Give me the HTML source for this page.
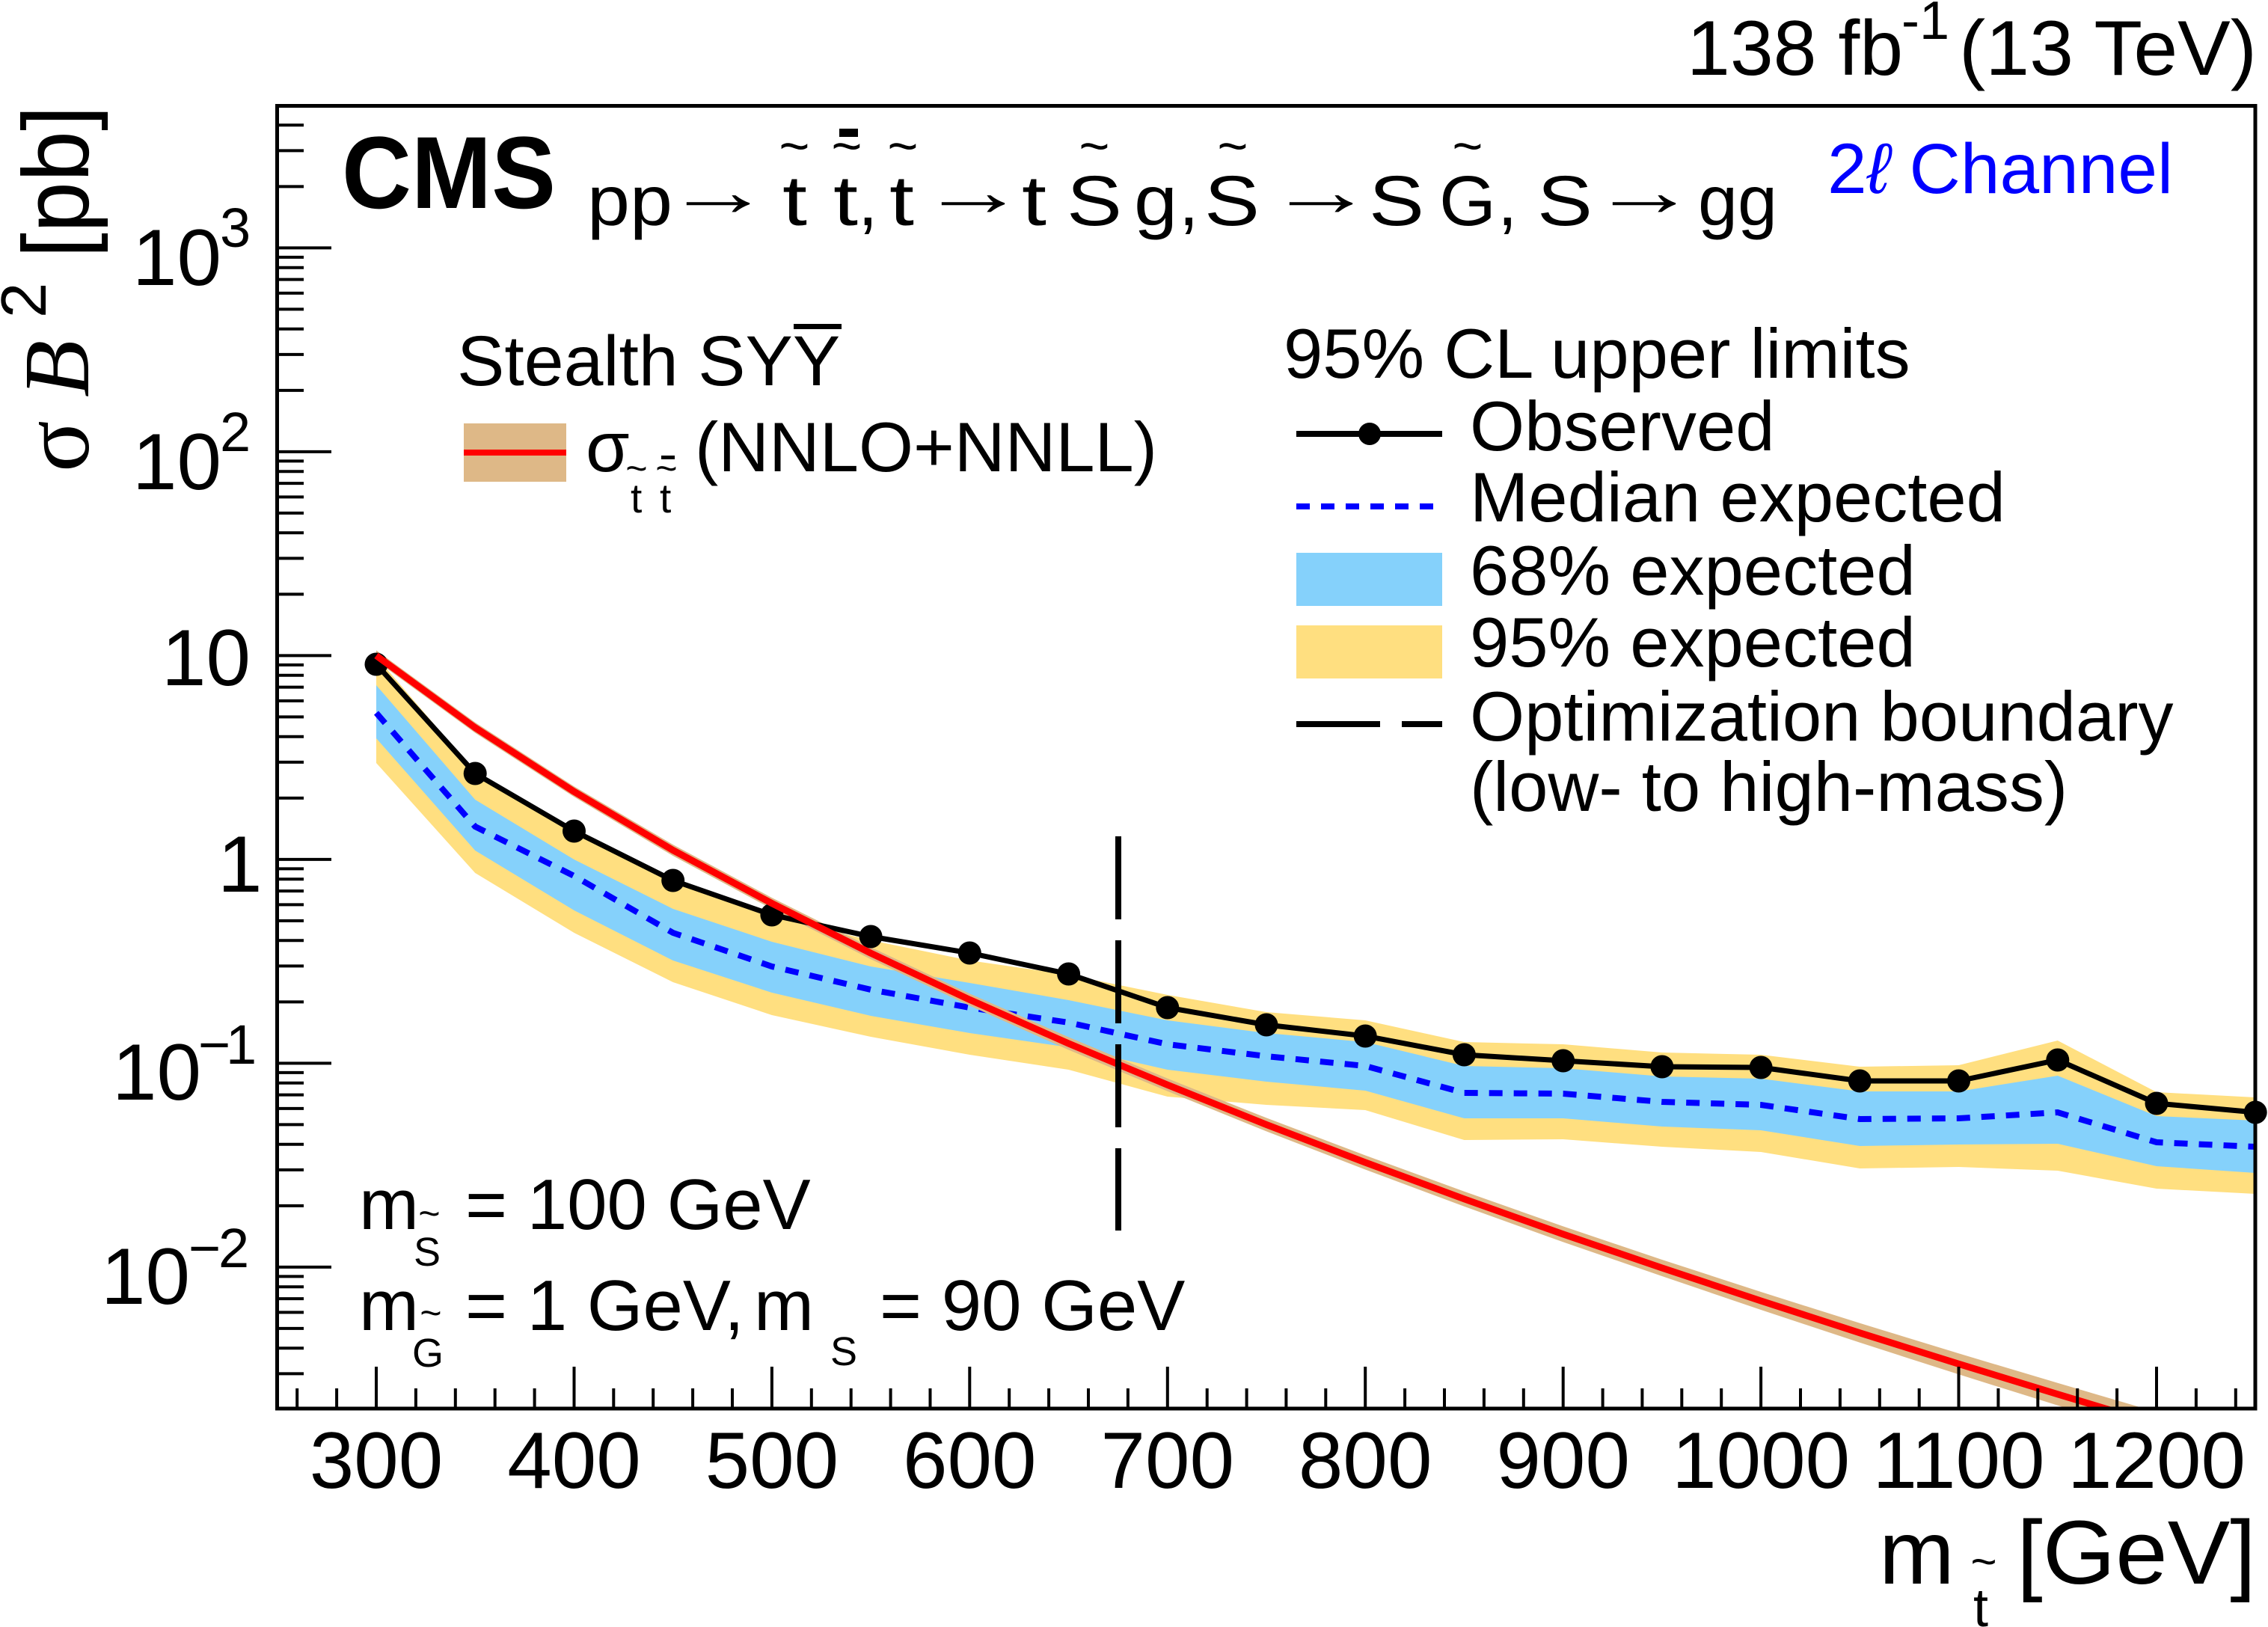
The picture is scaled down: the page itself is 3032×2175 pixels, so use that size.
<!DOCTYPE html>
<html><head><meta charset="utf-8"><style>
html,body{margin:0;padding:0;background:#fff;}
svg{display:block;}
text{font-family:"Liberation Sans",Arial,sans-serif;fill:#000;}
</style></head><body>
<svg width="3032" height="2175" viewBox="0 0 3032 2175" xmlns="http://www.w3.org/2000/svg">
<defs><clipPath id="fr"><rect x="370.5" y="141.5" width="2644.5" height="1741.5"/></clipPath></defs>
<rect width="3032" height="2175" fill="#fff"/>

<!-- 95% band -->
<polygon fill="#FFDF80" points="503,878 635.2,1032 767.5,1110 899.7,1178 1031.9,1225 1164.1,1257 1296.3,1284 1428.6,1303 1560.8,1330 1693,1353 1825.2,1364 1957.4,1393 2089.7,1396 2221.9,1407 2354.1,1410 2486.3,1426 2618.5,1424 2750.8,1391 2883,1460 3015.2,1467 3015.2,1596 2883,1589 2750.8,1565 2618.5,1560 2486.3,1562 2354.1,1540 2221.9,1533 2089.7,1523 1957.4,1524 1825.2,1484 1693,1477 1560.8,1466 1428.6,1430 1296.3,1410 1164.1,1386 1031.9,1357 899.7,1313 767.5,1247 635.2,1167 503,1020"/>
<!-- 68% band -->
<polygon fill="#85D1FB" points="503,916 635.2,1069 767.5,1149 899.7,1215 1031.9,1259 1164.1,1292 1296.3,1314 1428.6,1337 1560.8,1364 1693,1381 1825.2,1393 1957.4,1425 2089.7,1428 2221.9,1439 2354.1,1442 2486.3,1459 2618.5,1459 2750.8,1438 2883,1492 3015.2,1498 3015.2,1568 2883,1559 2750.8,1529 2618.5,1530 2486.3,1532 2354.1,1511 2221.9,1506 2089.7,1495 1957.4,1495 1825.2,1458 1693,1446 1560.8,1430 1428.6,1400 1296.3,1381 1164.1,1358 1031.9,1327 899.7,1284 767.5,1217 635.2,1137 503,987"/>
<!-- median expected -->
<polyline fill="none" stroke="#0000FF" stroke-width="8" stroke-dasharray="18 15" points="503,953 635.2,1105 767.5,1171 899.7,1247 1031.9,1292 1164.1,1323 1296.3,1347 1428.6,1367 1560.8,1396 1693,1412 1825.2,1425 1957.4,1461 2089.7,1462 2221.9,1473 2354.1,1477 2486.3,1496 2618.5,1495 2750.8,1487 2883,1527 3015.2,1533"/>

<g clip-path="url(#fr)">
<polygon fill="#DEB887" points="503,869.4 635.2,965.8 767.5,1051.3 899.7,1129.1 1031.9,1200.1 1164.1,1266.2 1296.3,1328.4 1428.6,1386.5 1560.8,1441.8 1693,1494.4 1825.2,1544.5 1957.4,1592.8 2089.7,1639.4 2221.9,1684 2354.1,1727 2486.3,1768.8 2618.5,1809.3 2750.8,1848.8 2883,1887.6 2883,1919.6 2750.8,1878.8 2618.5,1837.3 2486.3,1794.8 2354.1,1751 2221.9,1706 2089.7,1660.4 1957.4,1612.8 1825.2,1563.5 1693,1512.4 1560.8,1458.8 1428.6,1403.5 1296.3,1344.4 1164.1,1282.2 1031.9,1215.1 899.7,1144.1 767.5,1065.3 635.2,979.8 503,883.4"/>
</g>

<!-- observed -->
<polyline fill="none" stroke="#000" stroke-width="7" stroke-linejoin="round" points="503,888 635.2,1034 767.5,1111 899.7,1177 1031.9,1223 1164.1,1252 1296.3,1274 1428.6,1302 1560.8,1347 1693,1370 1825.2,1385 1957.4,1410 2089.7,1418 2221.9,1426 2354.1,1427 2486.3,1445 2618.5,1445 2750.8,1417 2883,1475 3015.2,1487"/>
<g fill="#000">
<circle cx="503" cy="888" r="15.5"/><circle cx="635.2" cy="1034" r="15.5"/><circle cx="767.5" cy="1111" r="15.5"/><circle cx="899.7" cy="1177" r="15.5"/><circle cx="1031.9" cy="1223" r="15.5"/><circle cx="1164.1" cy="1252" r="15.5"/><circle cx="1296.3" cy="1274" r="15.5"/><circle cx="1428.6" cy="1302" r="15.5"/><circle cx="1560.8" cy="1347" r="15.5"/><circle cx="1693" cy="1370" r="15.5"/><circle cx="1825.2" cy="1385" r="15.5"/><circle cx="1957.4" cy="1410" r="15.5"/><circle cx="2089.7" cy="1418" r="15.5"/><circle cx="2221.9" cy="1426" r="15.5"/><circle cx="2354.1" cy="1427" r="15.5"/><circle cx="2486.3" cy="1445" r="15.5"/><circle cx="2618.5" cy="1445" r="15.5"/><circle cx="2750.8" cy="1417" r="15.5"/><circle cx="2883" cy="1475" r="15.5"/><circle cx="3015.2" cy="1487" r="15.5"/>
</g>

<!-- theory line -->
<g clip-path="url(#fr)">
<polyline fill="none" stroke="#FF0000" stroke-width="9" stroke-linejoin="round" points="503,876.4 635.2,972.8 767.5,1058.3 899.7,1136.6 1031.9,1207.6 1164.1,1274.2 1296.3,1336.4 1428.6,1395 1560.8,1450.3 1693,1503.4 1825.2,1554 1957.4,1602.8 2089.7,1649.9 2221.9,1695 2354.1,1739 2486.3,1781.8 2618.5,1823.3 2750.8,1863.8 2883,1903.6"/>
</g>

<!-- optimization boundary -->
<line x1="1495" y1="1118" x2="1495" y2="1645" stroke="#000" stroke-width="8" stroke-dasharray="111 28"/>

<!-- frame -->
<rect x="370.5" y="141.5" width="2644.5" height="1741.5" fill="none" stroke="#000" stroke-width="5"/>

<!-- y ticks -->
<path stroke="#000" stroke-width="4" fill="none" d="
M370 331.4H443 M370 603.9H443 M370 876.4H443 M370 1148.9H443 M370 1421.4H443 M370 1693.9H443
M370 1836.4H406 M370 1802.3H406 M370 1775.9H406 M370 1754.4H406 M370 1736.1H406 M370 1720.3H406 M370 1706.4H406
M370 1611.9H406 M370 1563.9H406 M370 1529.8H406 M370 1503.4H406 M370 1481.9H406 M370 1463.6H406 M370 1447.8H406 M370 1433.9H406
M370 1339.4H406 M370 1291.4H406 M370 1257.3H406 M370 1230.9H406 M370 1209.4H406 M370 1191.1H406 M370 1175.3H406 M370 1161.4H406
M370 1066.9H406 M370 1018.9H406 M370 984.8H406 M370 958.4H406 M370 936.9H406 M370 918.6H406 M370 902.8H406 M370 888.9H406
M370 794.4H406 M370 746.4H406 M370 712.3H406 M370 685.9H406 M370 664.4H406 M370 646.1H406 M370 630.3H406 M370 616.4H406
M370 521.9H406 M370 473.9H406 M370 439.8H406 M370 413.4H406 M370 391.9H406 M370 373.6H406 M370 357.8H406 M370 343.9H406
M370 249.4H406 M370 201.4H406 M370 167.3H406"/>
<!-- x ticks -->
<path stroke="#000" stroke-width="4" fill="none" d="
M503 1883V1827 M767.5 1883V1827 M1031.9 1883V1827 M1296.3 1883V1827 M1560.8 1883V1827 M1825.2 1883V1827 M2089.7 1883V1827 M2354.1 1883V1827 M2618.5 1883V1827 M2883 1883V1827
M397.2 1883V1856 M450.1 1883V1856 M555.9 1883V1856 M608.8 1883V1856 M661.7 1883V1856 M714.6 1883V1856
M820.3 1883V1856 M873.2 1883V1856 M926.1 1883V1856 M979 1883V1856
M1084.8 1883V1856 M1137.7 1883V1856 M1190.6 1883V1856 M1243.5 1883V1856
M1349.2 1883V1856 M1402.1 1883V1856 M1455 1883V1856 M1507.9 1883V1856
M1613.7 1883V1856 M1666.6 1883V1856 M1719.4 1883V1856 M1772.3 1883V1856
M1878.1 1883V1856 M1931 1883V1856 M1983.9 1883V1856 M2036.8 1883V1856
M2142.6 1883V1856 M2195.4 1883V1856 M2248.3 1883V1856 M2301.2 1883V1856
M2407 1883V1856 M2459.9 1883V1856 M2512.8 1883V1856 M2565.7 1883V1856
M2671.4 1883V1856 M2724.3 1883V1856 M2777.2 1883V1856 M2830.1 1883V1856
M2935.9 1883V1856 M2988.8 1883V1856"/>

<!-- x tick labels -->
<g font-size="107" text-anchor="middle">
<text x="503" y="1989">300</text><text x="767.5" y="1989">400</text><text x="1031.9" y="1989">500</text><text x="1296.3" y="1989">600</text><text x="1560.8" y="1989">700</text><text x="1825.2" y="1989">800</text><text x="2089.7" y="1989">900</text><text x="2354.1" y="1989">1000</text><text x="2618.5" y="1989">1100</text><text x="2883" y="1989">1200</text>
</g>

<!-- y tick labels -->
<text x="177" y="381" font-size="107">10</text><text x="294" y="330" font-size="74">3</text>
<text x="177" y="654" font-size="107">10</text><text x="294" y="603" font-size="74">2</text>
<text x="216" y="916" font-size="107">10</text>
<text x="291" y="1192" font-size="107">1</text>
<text x="150" y="1470" font-size="107">10</text><text y="1422" font-size="74"><tspan x="265">−</tspan><tspan x="302">1</tspan></text>
<text x="135" y="1743" font-size="107">10</text><text y="1694" font-size="74"><tspan x="252">−</tspan><tspan x="292">2</tspan></text>

<!-- y axis title -->
<g transform="translate(118,629) rotate(-90)">
<text x="-2" y="0" font-size="128" style="font-family:'Liberation Serif',serif">σ</text>
<text x="98" y="0" font-size="125" font-style="italic" style="font-family:'Liberation Serif',serif">B</text>
<text x="204" y="-57" font-size="85">2</text>
<text x="284" y="0" font-size="125" textLength="204" lengthAdjust="spacingAndGlyphs">[pb]</text>
</g>

<!-- x axis title -->
<text x="2512" y="2117" font-size="121">m</text>
<text x="2638" y="2174" font-size="72">t</text>
<text x="2652" y="2108" font-size="60" text-anchor="middle">~</text>
<text x="2696" y="2117" font-size="121" textLength="320" lengthAdjust="spacingAndGlyphs">[GeV]</text>

<!-- top right lumi -->
<text x="2255" y="100" font-size="104">138 fb</text>
<text x="2542" y="52" font-size="72">-1</text>
<text x="2619" y="100" font-size="104" textLength="398" lengthAdjust="spacingAndGlyphs">(13 TeV)</text>

<!-- CMS -->
<text x="457" y="278" font-size="137" font-weight="bold" textLength="286" lengthAdjust="spacingAndGlyphs">CMS</text>

<!-- process string -->
<g font-size="95">
<text x="785" y="301" textLength="114" lengthAdjust="spacingAndGlyphs">pp</text>
<text x="1046" y="301" textLength="33" lengthAdjust="spacingAndGlyphs">t</text>
<text x="1114" y="301" textLength="33" lengthAdjust="spacingAndGlyphs">t</text>
<text x="1147" y="301">,</text>
<text x="1189" y="301" textLength="33" lengthAdjust="spacingAndGlyphs">t</text>
<text x="1366" y="301" textLength="33" lengthAdjust="spacingAndGlyphs">t</text>
<text x="1426" y="301" textLength="74" lengthAdjust="spacingAndGlyphs">S</text>
<text x="1516" y="301" textLength="58" lengthAdjust="spacingAndGlyphs">g</text>
<text x="1576" y="301">,</text>
<text x="1610" y="301" textLength="74" lengthAdjust="spacingAndGlyphs">S</text>
<text x="1830" y="301" textLength="74" lengthAdjust="spacingAndGlyphs">S</text>
<text x="1924" y="301" textLength="76" lengthAdjust="spacingAndGlyphs">G</text>
<text x="2002" y="301">,</text>
<text x="2055" y="301" textLength="74" lengthAdjust="spacingAndGlyphs">S</text>
<text x="2270" y="301" textLength="106" lengthAdjust="spacingAndGlyphs">gg</text>
</g>
<g font-size="95" text-anchor="middle">
<text transform="translate(960,288) scale(1.5,1)" x="0" y="0">→</text>
<text transform="translate(1301,288) scale(1.5,1)" x="0" y="0">→</text>
<text transform="translate(1766,288) scale(1.5,1)" x="0" y="0">→</text>
<text transform="translate(2198,288) scale(1.5,1)" x="0" y="0">→</text>
</g>
<g font-size="70" text-anchor="middle">
<text x="1062" y="219">~</text><text x="1132" y="219">~</text><text x="1207" y="219">~</text><text x="1463" y="219">~</text><text x="1648" y="219">~</text><text x="1962" y="219">~</text>
</g>
<rect x="1122" y="172" width="25" height="11" fill="#000"/>

<!-- 2l channel -->
<text x="2443" y="258" font-size="95" style="fill:#0000FF" textLength="462" lengthAdjust="spacingAndGlyphs">2<tspan font-style="italic" style="fill:#0000FF">ℓ</tspan> Channel</text>

<!-- left legend -->
<text x="611" y="515" font-size="95">Stealth SYY</text>
<rect x="1061" y="433" width="64" height="7" fill="#000"/>
<rect x="620" y="566" width="137" height="78" fill="#DEB887"/>
<rect x="620" y="601" width="137" height="8" fill="#FF0000"/>
<text x="783" y="630" font-size="95">σ</text>
<text x="843" y="685" font-size="55">t</text>
<text x="882" y="685" font-size="55">t</text>
<text x="851" y="643" font-size="50" text-anchor="middle">~</text>
<text x="891" y="643" font-size="50" text-anchor="middle">~</text>
<rect x="884" y="609" width="18" height="5" fill="#000"/>
<text x="929" y="630" font-size="94" textLength="618" lengthAdjust="spacingAndGlyphs">(NNLO+NNLL)</text>

<!-- right legend -->
<text x="1716" y="505" font-size="94">95% CL upper limits</text>
<line x1="1733" y1="580" x2="1928" y2="580" stroke="#000" stroke-width="8"/>
<circle cx="1831" cy="580" r="15" fill="#000"/>
<text x="1965" y="602" font-size="94">Observed</text>
<line x1="1733" y1="677" x2="1917" y2="677" stroke="#0000FF" stroke-width="8" stroke-dasharray="18 15"/>
<text x="1965" y="697" font-size="94">Median expected</text>
<rect x="1733" y="739" width="195" height="71" fill="#85D1FB"/>
<text x="1965" y="795" font-size="94">68% expected</text>
<rect x="1733" y="836" width="195" height="71" fill="#FFDF80"/>
<text x="1965" y="891" font-size="94">95% expected</text>
<line x1="1733" y1="968" x2="1845" y2="968" stroke="#000" stroke-width="8"/>
<line x1="1874" y1="968" x2="1928" y2="968" stroke="#000" stroke-width="8"/>
<text x="1965" y="990" font-size="94">Optimization boundary</text>
<text x="1965" y="1084" font-size="94">(low- to high-mass)</text>

<!-- bottom-left text -->
<text x="480" y="1643" font-size="96">m</text>
<text x="553" y="1692" font-size="54">S</text>
<text x="574" y="1639" font-size="50" text-anchor="middle">~</text>
<text x="622" y="1643" font-size="96">= 100 GeV</text>
<text x="480" y="1778" font-size="96">m</text>
<text x="551" y="1827" font-size="54">G</text>
<text x="576" y="1772" font-size="50" text-anchor="middle">~</text>
<text x="622" y="1778" font-size="96">= 1 GeV,</text>
<text x="1008" y="1778" font-size="96">m</text>
<text x="1110" y="1825" font-size="54">S</text>
<text x="1176" y="1778" font-size="96">= 90 GeV</text>
</svg>
</body></html>
